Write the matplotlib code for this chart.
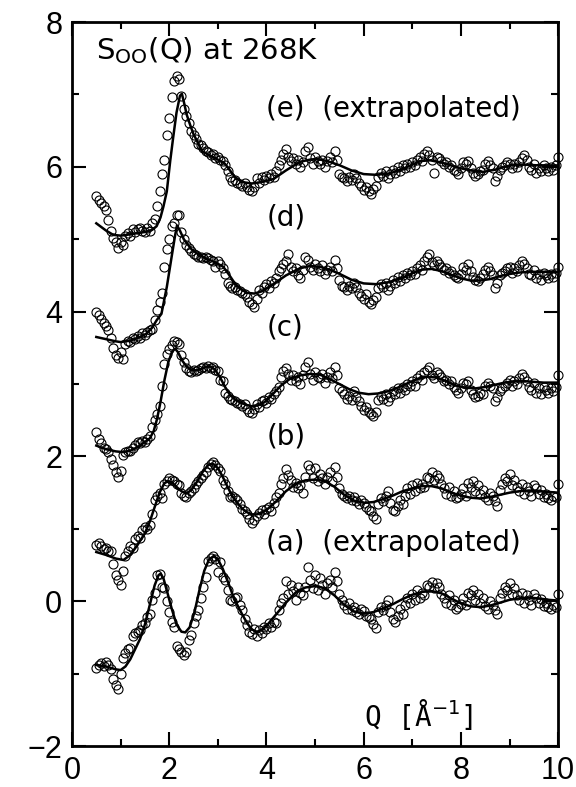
import numpy as np
import matplotlib
matplotlib.use("Agg")
import matplotlib.pyplot as plt
from matplotlib.ticker import MultipleLocator

# Q grid of the measured points (step 0.05 from 0.5 to 10)
q_data = np.round(np.arange(0.5, 10.0001, 0.05), 2)

s_a = [
    -0.92, -0.88, -0.85, -0.90, -0.84, -0.88, -0.93, -1.08, -1.16, -1.21,
    -1.00, -0.78, -0.72, -0.66, -0.64, -0.48, -0.44, -0.43, -0.40, -0.33,
    -0.30, -0.22, -0.17, 0.02, 0.12, 0.36, 0.38, 0.20, 0.18, 0.00,
    -0.15, -0.28, -0.36, -0.62, -0.66, -0.70, -0.74, -0.70, -0.54, -0.46,
    -0.30, -0.20, -0.12, 0.05, 0.20, 0.34, 0.55, 0.60, 0.62, 0.58,
    0.40, 0.54, 0.34, 0.30, 0.15, 0.02, 0.00, 0.05, 0.06, -0.05,
    -0.12, -0.25, -0.33, -0.42, -0.45, -0.38, -0.48, -0.40, -0.44, -0.36,
    -0.38, -0.30, -0.35, -0.28, -0.30, -0.12, -0.02, 0.05, 0.28, 0.10,
    0.22, 0.14, 0.02, 0.20, 0.12, 0.08, 0.20, 0.47, 0.30, 0.18,
    0.36, 0.15, 0.32, 0.22, 0.10, 0.25, 0.30, 0.20, 0.40, 0.28,
    0.10, 0.02, -0.05, -0.10, -0.03, -0.12, -0.08, -0.15, -0.18, -0.10,
    -0.14, -0.20, -0.22, -0.25, -0.32, -0.37, -0.15, -0.08, -0.12, -0.05,
    0.02, -0.15, -0.25, -0.28, -0.20, -0.10, -0.18, -0.05, 0.05, -0.02,
    0.10, 0.02, 0.15, 0.05, 0.12, 0.08, 0.22, 0.20, 0.26, 0.18,
    0.25, 0.20, 0.10, 0.05, -0.02, 0.08, -0.05, 0.02, -0.10, -0.08,
    -0.04, 0.05, -0.05, 0.12, 0.08, 0.15, 0.02, 0.10, -0.02, 0.05,
    -0.06, -0.10, 0.00, -0.05, -0.12, -0.18, 0.05, 0.12, 0.20, 0.15,
    0.25, 0.10, 0.18, 0.08, 0.02, 0.12, -0.02, 0.08, 0.02, -0.05,
    0.10, 0.05, -0.02, 0.03, -0.06, -0.02, -0.08, -0.10, -0.05, -0.08,
    0.10,
]
s_b = [
    0.78, 0.80, 0.76, 0.72, 0.74, 0.70, 0.70, 0.52, 0.36, 0.30,
    0.22, 0.42, 0.62, 0.70, 0.76, 0.74, 0.86, 0.90, 0.88, 0.98,
    1.02, 1.00, 1.05, 1.20, 1.40, 1.46, 1.50, 1.42, 1.62, 1.66,
    1.70, 1.68, 1.66, 1.62, 1.60, 1.50, 1.46, 1.44, 1.50, 1.52,
    1.56, 1.62, 1.66, 1.70, 1.74, 1.78, 1.86, 1.90, 1.92, 1.88,
    1.84, 1.80, 1.68, 1.62, 1.52, 1.44, 1.46, 1.42, 1.40, 1.34,
    1.28, 1.24, 1.20, 1.14, 1.08, 1.12, 1.18, 1.22, 1.26, 1.20,
    1.28, 1.30, 1.24, 1.36, 1.44, 1.50, 1.62, 1.70, 1.82, 1.74,
    1.68, 1.58, 1.64, 1.56, 1.60, 1.50, 1.72, 1.88, 1.82, 1.70,
    1.84, 1.66, 1.76, 1.70, 1.62, 1.72, 1.78, 1.66, 1.86, 1.72,
    1.56, 1.48, 1.46, 1.42, 1.46, 1.40, 1.44, 1.38, 1.34, 1.40,
    1.36, 1.30, 1.26, 1.24, 1.18, 1.14, 1.34, 1.42, 1.38, 1.46,
    1.52, 1.36, 1.26, 1.24, 1.32, 1.40, 1.34, 1.46, 1.56, 1.48,
    1.60, 1.52, 1.64, 1.56, 1.62, 1.58, 1.72, 1.70, 1.78, 1.68,
    1.74, 1.70, 1.62, 1.56, 1.48, 1.58, 1.46, 1.52, 1.42, 1.44,
    1.48, 1.56, 1.46, 1.64, 1.58, 1.66, 1.52, 1.60, 1.48, 1.54,
    1.44, 1.40, 1.50, 1.46, 1.38, 1.32, 1.54, 1.62, 1.70, 1.66,
    1.76, 1.60, 1.68, 1.58, 1.52, 1.62, 1.48, 1.58, 1.52, 1.46,
    1.60, 1.56, 1.48, 1.54, 1.44, 1.48, 1.42, 1.40, 1.46, 1.44,
    1.62,
]
s_c = [
    2.34, 2.24, 2.18, 2.12, 2.10, 2.06, 1.96, 1.88, 1.78, 1.72,
    1.80, 2.02, 2.06, 2.08, 2.08, 2.12, 2.16, 2.20, 2.18, 2.22,
    2.20, 2.24, 2.28, 2.40, 2.50, 2.58, 2.70, 2.98, 3.28, 3.42,
    3.48, 3.54, 3.60, 3.58, 3.56, 3.40, 3.30, 3.22, 3.18, 3.16,
    3.20, 3.18, 3.20, 3.22, 3.24, 3.22, 3.25, 3.22, 3.24, 3.20,
    3.18, 3.06, 3.04, 2.88, 2.84, 2.80, 2.78, 2.76, 2.74, 2.72,
    2.70, 2.72, 2.66, 2.62, 2.60, 2.66, 2.72, 2.68, 2.76, 2.78,
    2.74, 2.82, 2.80, 2.86, 2.90, 2.96, 3.10, 3.18, 3.22, 3.14,
    3.06, 3.12, 3.04, 3.10, 3.00, 3.12, 3.24, 3.30, 3.14, 3.06,
    3.16, 3.10, 3.08, 3.14, 3.02, 3.10, 3.16, 3.08, 3.24, 3.12,
    2.94, 2.90, 2.86, 2.80, 2.84, 2.78, 2.90, 2.82, 2.76, 2.70,
    2.64, 2.68, 2.62, 2.58, 2.56, 2.62, 2.78, 2.84, 2.80, 2.86,
    2.76, 2.82, 2.90, 2.86, 2.94, 2.88, 2.96, 2.92, 3.00, 2.98,
    3.04, 2.98, 3.08, 3.12, 3.06, 3.16, 3.20, 3.24, 3.12, 3.08,
    3.16, 3.14, 3.10, 3.04, 3.06, 3.00, 3.04, 2.96, 2.92, 2.88,
    2.94, 3.02, 3.00, 3.04, 2.92, 2.86, 2.82, 2.84, 2.88, 2.86,
    2.98, 3.02, 2.98, 2.94, 2.76, 2.82, 2.90, 2.94, 2.98, 3.02,
    3.06, 2.98, 3.04, 3.00, 3.08, 3.14, 3.10, 3.04, 2.96, 2.92,
    3.02, 2.88, 2.94, 2.86, 2.96, 2.92, 2.88, 2.94, 2.90, 2.96,
    3.12,
]
s_d = [
    4.00, 3.96, 3.90, 3.84, 3.80, 3.74, 3.64, 3.50, 3.40, 3.36,
    3.44, 3.34, 3.56, 3.60, 3.58, 3.64, 3.62, 3.66, 3.64, 3.70,
    3.68, 3.72, 3.74, 3.76, 3.88, 4.02, 4.14, 4.26, 4.62, 4.86,
    5.00, 5.18, 5.22, 5.34, 5.34, 5.10, 5.00, 4.92, 4.88, 4.84,
    4.80, 4.78, 4.76, 4.76, 4.74, 4.76, 4.74, 4.72, 4.70, 4.62,
    4.70, 4.66, 4.60, 4.52, 4.40, 4.36, 4.32, 4.34, 4.30, 4.28,
    4.26, 4.24, 4.20, 4.14, 4.10, 4.06, 4.18, 4.30, 4.26, 4.34,
    4.38, 4.32, 4.42, 4.40, 4.46, 4.56, 4.60, 4.66, 4.70, 4.80,
    4.62, 4.56, 4.60, 4.50, 4.46, 4.58, 4.76, 4.72, 4.62, 4.58,
    4.66, 4.60, 4.56, 4.64, 4.52, 4.58, 4.62, 4.56, 4.72, 4.60,
    4.44, 4.36, 4.34, 4.30, 4.36, 4.32, 4.40, 4.34, 4.26, 4.22,
    4.18, 4.24, 4.14, 4.10, 4.16, 4.20, 4.32, 4.38, 4.34, 4.40,
    4.30, 4.36, 4.44, 4.40, 4.48, 4.42, 4.50, 4.46, 4.54, 4.50,
    4.56, 4.52, 4.60, 4.64, 4.58, 4.70, 4.76, 4.80, 4.68, 4.64,
    4.70, 4.66, 4.62, 4.58, 4.60, 4.54, 4.56, 4.50, 4.48, 4.46,
    4.52, 4.62, 4.58, 4.66, 4.56, 4.48, 4.44, 4.42, 4.46, 4.52,
    4.58, 4.62, 4.56, 4.50, 4.32, 4.40, 4.50, 4.54, 4.56, 4.60,
    4.62, 4.54, 4.60, 4.56, 4.64, 4.70, 4.66, 4.60, 4.52, 4.50,
    4.58, 4.46, 4.52, 4.44, 4.54, 4.50, 4.46, 4.52, 4.48, 4.54,
    4.62,
]
s_e = [
    5.60, 5.54, 5.50, 5.46, 5.40, 5.26, 5.12, 5.02, 4.96, 4.88,
    4.96, 4.92, 5.04, 5.08, 5.04, 5.14, 5.10, 5.14, 5.16, 5.12,
    5.10, 5.16, 5.12, 5.22, 5.28, 5.46, 5.66, 5.90, 6.10, 6.44,
    6.68, 6.96, 7.18, 7.26, 7.22, 6.98, 6.80, 6.70, 6.60, 6.50,
    6.44, 6.38, 6.32, 6.30, 6.26, 6.22, 6.20, 6.16, 6.18, 6.12,
    6.14, 6.10, 6.08, 6.02, 5.94, 5.86, 5.80, 5.82, 5.78, 5.76,
    5.74, 5.78, 5.72, 5.68, 5.66, 5.72, 5.84, 5.78, 5.86, 5.82,
    5.88, 5.84, 5.90, 5.86, 5.94, 6.02, 6.10, 6.18, 6.24, 6.14,
    6.08, 6.12, 6.04, 6.10, 6.00, 6.06, 6.22, 6.28, 6.12, 6.04,
    6.14, 6.08, 6.04, 6.10, 6.00, 6.08, 6.14, 6.06, 6.22, 6.10,
    5.90, 5.86, 5.84, 5.80, 5.86, 5.82, 5.90, 5.84, 5.78, 5.74,
    5.68, 5.72, 5.66, 5.62, 5.70, 5.74, 5.86, 5.92, 5.88, 5.94,
    5.84, 5.90, 5.96, 5.92, 6.00, 5.94, 6.02, 5.98, 6.04, 6.00,
    6.06, 6.02, 6.10, 6.14, 6.08, 6.18, 6.22, 6.16, 6.10, 5.92,
    6.14, 6.12, 6.08, 6.04, 6.06, 6.00, 6.02, 5.96, 5.94, 5.90,
    5.98, 6.06, 6.04, 6.08, 5.98, 5.92, 5.88, 5.90, 5.94, 5.96,
    6.04, 6.08, 6.02, 5.98, 5.80, 5.88, 5.96, 6.00, 6.02, 6.06,
    6.04, 5.98, 6.04, 6.00, 6.06, 6.12, 6.16, 6.10, 6.00, 5.96,
    6.04, 5.92, 5.98, 5.94, 6.02, 5.98, 5.94, 6.00, 5.96, 6.02,
    6.14,
]

# fitted curves (solid lines)
q_fit_a = [0.50, 0.70, 0.90, 1.00, 1.10, 1.20, 1.30, 1.40, 1.50, 1.60, 1.70, 1.78,
           1.82, 1.88, 1.95, 2.05, 2.15, 2.25, 2.33, 2.42, 2.52, 2.62, 2.72, 2.82,
           2.92, 3.00, 3.10, 3.20, 3.30, 3.40, 3.50, 3.60, 3.70, 3.80, 3.90, 4.00,
           4.20, 4.40, 4.60, 4.80, 5.00, 5.20, 5.40, 5.60, 5.80, 6.00, 6.20, 6.40,
           6.60, 6.80, 7.00, 7.20, 7.40, 7.60, 7.80, 8.00, 8.20, 8.40, 8.60, 8.80,
           9.00, 9.20, 9.40, 9.60, 9.80, 10.00]
s_fit_a = [-0.88, -0.90, -0.94, -0.95, -0.90, -0.80, -0.66, -0.52, -0.32, -0.05, 0.22, 0.36,
           0.38, 0.32, 0.15, -0.10, -0.32, -0.42, -0.43, -0.36, -0.15, 0.15, 0.42, 0.58,
           0.62, 0.58, 0.45, 0.28, 0.10, -0.05, -0.18, -0.30, -0.39, -0.42, -0.40, -0.34,
           -0.18, -0.02, 0.12, 0.19, 0.21, 0.18, 0.08, -0.05, -0.14, -0.17, -0.15, -0.10,
           -0.04, 0.03, 0.09, 0.13, 0.14, 0.11, 0.04, -0.03, -0.07, -0.08, -0.06, -0.02,
           0.02, 0.04, 0.05, 0.04, 0.02, 0.01]

q_fit_b = [0.50, 0.70, 0.90, 1.06, 1.20, 1.35, 1.50, 1.60, 1.70, 1.80, 1.90, 1.98,
           2.06, 2.15, 2.25, 2.36, 2.46, 2.58, 2.70, 2.80, 2.90, 3.00, 3.10, 3.20,
           3.30, 3.40, 3.50, 3.60, 3.70, 3.80, 3.90, 4.00, 4.20, 4.40, 4.60, 4.80,
           5.00, 5.20, 5.40, 5.60, 5.80, 6.00, 6.20, 6.40, 6.60, 6.80, 7.00, 7.20,
           7.40, 7.60, 7.80, 8.00, 8.20, 8.40, 8.60, 8.80, 9.00, 9.20, 9.40, 9.60,
           9.80, 10.00]
s_fit_b = [0.68, 0.64, 0.59, 0.57, 0.64, 0.78, 0.94, 1.10, 1.30, 1.50, 1.63, 1.66,
           1.64, 1.58, 1.52, 1.49, 1.54, 1.66, 1.80, 1.88, 1.90, 1.84, 1.72, 1.58,
           1.45, 1.36, 1.28, 1.23, 1.20, 1.20, 1.22, 1.26, 1.38, 1.52, 1.62, 1.67,
           1.68, 1.66, 1.58, 1.47, 1.39, 1.36, 1.37, 1.41, 1.46, 1.52, 1.56, 1.59,
           1.59, 1.56, 1.50, 1.46, 1.43, 1.42, 1.44, 1.47, 1.50, 1.52, 1.53, 1.52,
           1.51, 1.50]

q_fit_c = [0.50, 0.70, 0.90, 1.05, 1.20, 1.35, 1.50, 1.60, 1.68, 1.75, 1.82, 1.90,
           1.98, 2.06, 2.12, 2.18, 2.26, 2.36, 2.46, 2.56, 2.66, 2.76, 2.86, 2.94,
           3.04, 3.14, 3.24, 3.36, 3.48, 3.60, 3.72, 3.84, 3.96, 4.10, 4.30, 4.50,
           4.70, 4.90, 5.10, 5.30, 5.50, 5.70, 5.90, 6.10, 6.30, 6.50, 6.70, 6.90,
           7.10, 7.30, 7.50, 7.70, 7.90, 8.10, 8.30, 8.50, 8.70, 8.90, 9.10, 9.30,
           9.50, 9.70, 9.90, 10.00]
s_fit_c = [2.15, 2.10, 2.07, 2.06, 2.08, 2.13, 2.20, 2.25, 2.35, 2.52, 2.75, 3.05,
           3.30, 3.45, 3.49, 3.44, 3.33, 3.24, 3.19, 3.19, 3.21, 3.24, 3.24, 3.20,
           3.10, 2.97, 2.86, 2.78, 2.74, 2.71, 2.69, 2.71, 2.75, 2.84, 2.98, 3.08,
           3.12, 3.14, 3.13, 3.07, 3.00, 2.93, 2.88, 2.86, 2.87, 2.90, 2.95, 3.01,
           3.07, 3.10, 3.09, 3.04, 2.98, 2.95, 2.94, 2.96, 2.99, 3.02, 3.04, 3.04,
           3.03, 3.02, 3.02, 3.02]

q_fit_d = [0.50, 0.70, 0.90, 1.00, 1.20, 1.40, 1.54, 1.65, 1.74, 1.84, 1.95, 2.05,
           2.12, 2.16, 2.22, 2.30, 2.38, 2.46, 2.60, 2.77, 2.95, 3.11, 3.22, 3.32,
           3.45, 3.60, 3.75, 3.90, 4.14, 4.40, 4.69, 4.90, 5.10, 5.30, 5.51, 5.75,
           6.00, 6.25, 6.54, 6.80, 7.00, 7.20, 7.40, 7.60, 7.80, 8.00, 8.20, 8.40,
           8.60, 8.80, 9.00, 9.20, 9.40, 9.60, 9.80, 10.00]
s_fit_d = [3.65, 3.62, 3.59, 3.58, 3.60, 3.65, 3.70, 3.78, 3.88, 3.97, 4.34, 4.76,
           5.05, 5.19, 5.12, 5.00, 4.93, 4.86, 4.79, 4.73, 4.68, 4.62, 4.52, 4.42,
           4.32, 4.26, 4.25, 4.28, 4.38, 4.50, 4.60, 4.63, 4.62, 4.58, 4.52, 4.44,
           4.39, 4.38, 4.41, 4.47, 4.53, 4.58, 4.59, 4.56, 4.51, 4.46, 4.43, 4.43,
           4.45, 4.49, 4.52, 4.54, 4.55, 4.55, 4.55, 4.55]

q_fit_e = [0.50, 0.70, 0.85, 1.00, 1.12, 1.30, 1.50, 1.65, 1.74, 1.82, 1.88, 1.95,
           2.02, 2.08, 2.15, 2.22, 2.26, 2.30, 2.36, 2.43, 2.50, 2.57, 2.67, 2.80,
           3.00, 3.15, 3.25, 3.35, 3.50, 3.70, 3.90, 4.14, 4.40, 4.69, 4.90, 5.03,
           5.25, 5.51, 5.75, 6.00, 6.25, 6.54, 6.80, 7.00, 7.16, 7.37, 7.60, 7.80,
           8.00, 8.20, 8.46, 8.70, 9.01, 9.30, 9.60, 10.00]
s_fit_e = [5.22, 5.12, 5.06, 5.05, 5.06, 5.08, 5.10, 5.13, 5.18, 5.30, 5.45, 5.66,
           6.08, 6.40, 6.75, 6.98, 7.01, 6.90, 6.72, 6.58, 6.45, 6.36, 6.22, 6.17,
           6.10, 6.04, 5.95, 5.86, 5.79, 5.77, 5.79, 5.83, 5.95, 6.07, 6.10, 6.11,
           6.08, 6.02, 5.95, 5.90, 5.89, 5.91, 5.97, 6.03, 6.08, 6.09, 6.06, 6.02,
           5.98, 5.95, 5.93, 5.96, 6.02, 6.03, 6.02, 6.02]

# curve labels and where their text sits (y in data units)
labels = ["(a)  (extrapolated)", "(b)", "(c)", "(d)", "(e)  (extrapolated)"]
label_y = [0.80, 2.28, 3.78, 5.30, 6.80]

curves = [
    (s_a, q_fit_a, s_fit_a),
    (s_b, q_fit_b, s_fit_b),
    (s_c, q_fit_c, s_fit_c),
    (s_d, q_fit_d, s_fit_d),
    (s_e, q_fit_e, s_fit_e),
]

fig = plt.figure(figsize=(5.76, 7.87), dpi=100)
ax = fig.add_axes([0.125, 0.052, 0.844, 0.920])

for s_pts, q_fit, s_fit in curves:
    if len(s_pts) != len(q_data):
        raise ValueError("point count mismatch: %d" % len(s_pts))
    ax.plot(q_data, s_pts, "o", mfc="none", mec="black", ms=6.5, mew=0.8,
            clip_on=False, zorder=2)
    ax.plot(q_fit, s_fit, "-", color="black", lw=1.8, zorder=3)

for text, y in zip(labels, label_y):
    ax.text(4.0, y, text, fontsize=20, va="center", ha="left")

ax.text(0.5, 7.6, r"S$_{\rm OO}$(Q) at 268K", fontsize=21, va="center", ha="left")
ax.text(6.0, -1.57, r"Q [Å$^{-1}$]", fontsize=20, va="center", ha="left",
        family="DejaVu Sans Mono")

ax.set_xlim(0, 10)
ax.set_ylim(-2, 8)
ax.xaxis.set_major_locator(MultipleLocator(2))
ax.xaxis.set_minor_locator(MultipleLocator(1))
ax.yaxis.set_major_locator(MultipleLocator(2))
ax.yaxis.set_minor_locator(MultipleLocator(1))
ax.tick_params(which="both", direction="in", top=True, right=True, width=1.5)
ax.tick_params(which="major", length=10, labelsize=22, pad=7)
ax.tick_params(which="minor", length=5)
for lab in ax.get_xticklabels() + ax.get_yticklabels():
    lab.set_family("Liberation Sans")
for sp in ax.spines.values():
    sp.set_linewidth(2.0)

fig.savefig("out.png", dpi=100)
